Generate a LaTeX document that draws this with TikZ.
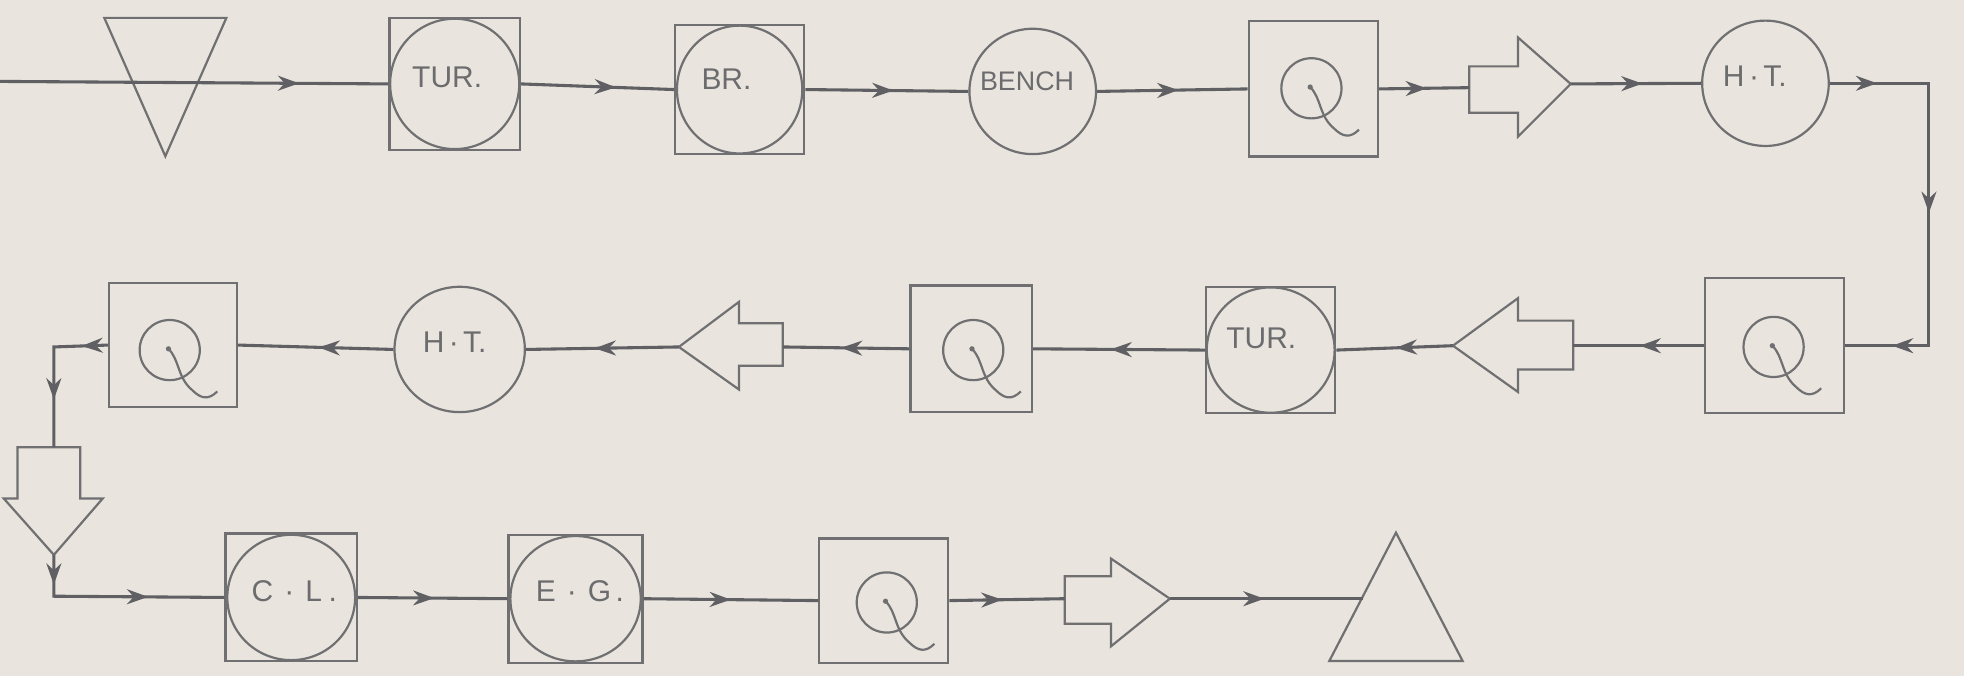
\documentclass[tikz,border=0pt]{standalone}
\usepackage{fontspec}
\setmainfont{Liberation Sans}
\usetikzlibrary{arrows.meta,decorations.markings,shapes.geometric}
\definecolor{paper}{RGB}{233,229,222}
\definecolor{pencil}{RGB}{112,112,114}
\definecolor{lead}{RGB}{96,96,100}
\definecolor{inkt}{RGB}{108,108,110}
\tikzset{
  shp/.style={draw=pencil, line width=0.5pt},
  boxst/.style={shp, rectangle, inner sep=0pt},
  circst/.style={shp, ellipse, inner sep=0pt},
  lbl/.style={text=inkt, font=\fontsize{6.8}{8}\selectfont, inner sep=0pt},
  conn/.style={draw=lead, line width=0.7pt},
  tipat/.style={postaction={decorate, decoration={markings,
      mark=at position #1 with {\arrow[lead]{Stealth[length=4.8pt,width=3.4pt]}}}}},
  qsym/.pic={
    \draw[shp] (0,0) circle [radius=0.24cm];
    \fill[pencil] (-1,-1) circle [radius=0.6pt];
    \draw[shp] (-1,-1) .. controls (8,8) and (6,22) .. (18,32) .. controls (25,39) and (31,40) .. (38,33);
  },
}
\begin{document}
\begin{tikzpicture}[x=0.01cm,y=-0.01cm]
\fill[paper] (0,0) rectangle (1568,540);
\useasboundingbox (0,0) rectangle (1568,540);

% ---------- row 1 ----------
\coordinate (start) at (0,65);
\node[inner sep=0pt, minimum width=0.96cm, minimum height=1.09cm] (tri1) at (132,69.5) {};
\draw[shp] (tri1.north west) -- (tri1.north east) -- (tri1.south) -- cycle;

\node[boxst, minimum width=1.04cm, minimum height=1.05cm] (tur1) at (363,67) {};
\draw[shp] (tur1.center) ellipse [x radius=0.515cm, y radius=0.52cm];
\node[lbl] (tur1t) at (357,62) {TUR.};

\node[boxst, minimum width=1.03cm, minimum height=1.03cm] (br) at (590.5,71.5) {};
\draw[shp] (br.center) ellipse [x radius=0.5cm, y radius=0.51cm];
\node[lbl] (brt) at (580,63) {BR.};

\node[circst, minimum width=1.01cm, minimum height=1.0cm] (bench) at (824.5,73) {};
\node[lbl, font=\fontsize{6.1}{7}\selectfont] (bencht) at (820,65) {BENCH};

\node[boxst, minimum width=1.03cm, minimum height=1.08cm] (q1) at (1048.5,71) {};
\pic at (1047,70.5) {qsym};

\coordinate (ba1in) at (1173,70);
\coordinate (ba1out) at (1254,67);
\draw[shp] (1173,53) -- (1212,53) -- (1212,30) -- (ba1out) -- (1212,109) -- (1212,90) -- (1173,90) -- cycle;

\node[circst, minimum width=1.01cm, minimum height=1.0cm] (ht1) at (1409.5,66.5) {};
\node[lbl] (ht1t) at (1401,61) {H\kern1pt·\kern1pt T.};

\coordinate (c1) at (1540,66.5);
\coordinate (c2) at (1540,276);

% ---------- row 2 ----------
\node[boxst, minimum width=1.11cm, minimum height=1.08cm] (q2) at (1416.5,276) {};
\pic at (1416,277) {qsym};

\coordinate (ba2in) at (1256,276);
\coordinate (ba2out) at (1160,276);
\draw[shp] (ba2in) -- (1256,256) -- (1212,256) -- (1212,238) -- (ba2out) -- (1212,313) -- (1212,295) -- (1256,295) -- cycle;

\node[boxst, minimum width=1.03cm, minimum height=1.01cm] (tur2) at (1014.5,279.5) {};
\draw[shp] (tur2.center) ellipse [x radius=0.51cm, y radius=0.5cm];
\node[lbl] (tur2t) at (1007,270) {TUR.};

\node[boxst, minimum width=0.97cm, minimum height=1.01cm] (q3) at (775.5,278.5) {};
\pic at (777,279.5) {qsym};

\coordinate (ba3in) at (625,277);
\coordinate (ba3out) at (542,277);
\draw[shp] (ba3in) -- (625,258) -- (590,258) -- (590,241) -- (ba3out) -- (590,311) -- (590,292) -- (625,292) -- cycle;

\node[circst, minimum width=1.04cm, minimum height=1.0cm] (ht2) at (367,279) {};
\node[lbl] (ht2t) at (363,273) {H\kern1pt·\kern1pt T.};

\node[boxst, minimum width=1.02cm, minimum height=0.99cm] (q4) at (138,275.5) {};
\pic at (135.5,279.5) {qsym};

\coordinate (c3) at (43,277);
\coordinate (ba4in) at (43,357);
\coordinate (ba4out) at (43,443);
\draw[shp] (14,357) -- (64,357) -- (64,398) -- (82,398) -- (ba4out) -- (3,398) -- (14,398) -- cycle;
\coordinate (c4) at (43,476);

% ---------- row 3 ----------
\node[boxst, minimum width=1.05cm, minimum height=1.02cm] (cl) at (232.5,477) {};
\draw[shp] (cl.center) ellipse [x radius=0.51cm, y radius=0.5cm];
\node[lbl] (clt) at (235,472) {C\hspace{2.5pt}·\hspace{2.5pt}L\hspace{1.5pt}.};

\node[boxst, minimum width=1.07cm, minimum height=1.02cm] (eg) at (459.5,478) {};
\draw[shp] (eg.center) ellipse [x radius=0.52cm, y radius=0.5cm];
\node[lbl] (egt) at (463,472) {E\hspace{2.5pt}·\hspace{2.5pt}G\hspace{1pt}.};

\node[boxst, minimum width=1.03cm, minimum height=0.99cm] (q5) at (705.5,479.5) {};
\pic at (708,481) {qsym};

\coordinate (ba5in) at (850,478);
\coordinate (ba5out) at (934,478);
\draw[shp] (ba5in) -- (850,460) -- (887,460) -- (887,446) -- (ba5out) -- (887,516) -- (887,498) -- (850,498) -- cycle;

\node[inner sep=0pt, minimum width=1.05cm, minimum height=1.01cm] (tri2) at (1114.5,476.5) {};
\draw[shp] (tri2.south west) -- (tri2.south east) -- (tri2.north) -- cycle;
\coordinate (tri2in) at (1088,478);

% ---------- connectors ----------
\draw[conn, tipat=0.77] (start) -- (tur1.west);
\draw[conn, tipat=0.62] (tur1.east) -- (br.west);
\draw[conn, tipat=0.54] (br.east) -- (bench.west);
\draw[conn, tipat=0.54] (bench.east) -- (q1.west);
\draw[conn, tipat=0.53] (q1.east) -- (ba1in);
\draw[conn, tipat=0.55] (ba1out) -- (ht1.west);
\draw[conn, tipat=0.106, tipat=0.513, tipat=0.894] (ht1.east) -- (c1) -- (c2) -- (q2.east);

\draw[conn, tipat=0.49] (q2.west) -- (ba2in);
\draw[conn, tipat=0.49] (ba2out) -- (tur2.east);
\draw[conn, tipat=0.55] (tur2.west) -- (q3.east);
\draw[conn, tipat=0.54] (q3.west) -- (ba3in);
\draw[conn, tipat=0.55] (ba3out) -- (ht2.east);
\draw[conn, tipat=0.48] (ht2.west) -- (q4.east);
\draw[conn, tipat=0.17, tipat=0.69] (q4.west) -- (c3) -- (ba4in);
\draw[conn, tipat=0.14, tipat=0.64] (ba4out) -- (c4) -- (cl.west);

\draw[conn, tipat=0.51] (cl.east) -- (eg.west);
\draw[conn, tipat=0.50] (eg.east) -- (q5.west);
\draw[conn, tipat=0.46] (q5.east) -- (ba5in);
\draw[conn, tipat=0.49] (ba5out) -- (tri2in);
\end{tikzpicture}
\end{document}
